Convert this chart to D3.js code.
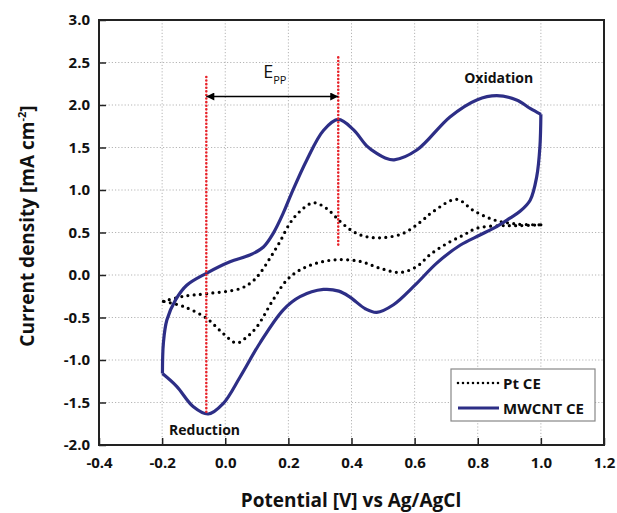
<!DOCTYPE html>
<html>
<head>
<meta charset="utf-8">
<script src="https://cdn.jsdelivr.net/npm/d3@7"></script>
<style>
  body { margin: 0; background: #fff; }
  text { font-family: "Open Sans", "DejaVu Sans", sans-serif; }
</style>
</head>
<body>
<svg id="chart" width="617" height="513"></svg>
<script>
// CV curves, Pt CE vs MWCNT CE

var xTicks = [-0.4, -0.2, 0.0, 0.2, 0.4, 0.6, 0.8, 1.0, 1.2];
var yTicks = [-2.0, -1.5, -1.0, -0.5, 0.0, 0.5, 1.0, 1.5, 2.0, 2.5, 3.0];

// MWCNT CE, anodic sweep (-0.2 V -> 1.0 V)
var mwcntAnodic = [
  [-0.199, -1.16], [-0.196, -0.80], [-0.185, -0.53], [-0.157, -0.29],
  [-0.122, -0.12], [-0.06, 0.02], [0.015, 0.156], [0.078, 0.235],
  [0.121, 0.33], [0.152, 0.49], [0.184, 0.73], [0.21, 0.96],
  [0.258, 1.35], [0.311, 1.70], [0.358, 1.83], [0.406, 1.71],
  [0.448, 1.52], [0.48, 1.43], [0.505, 1.38], [0.535, 1.355],
  [0.607, 1.47], [0.712, 1.86], [0.797, 2.06], [0.86, 2.11],
  [0.923, 2.06], [0.966, 1.96], [1.0, 1.89]
];
// MWCNT CE, cathodic sweep (1.0 V -> -0.2 V)
var mwcntCathodic = [
  [1.0, 1.89], [0.997, 1.51], [0.987, 1.16], [0.966, 0.88],
  [0.934, 0.75], [0.902, 0.67], [0.86, 0.57], [0.807, 0.47],
  [0.744, 0.35], [0.67, 0.14], [0.601, -0.12], [0.533, -0.35],
  [0.48, -0.44], [0.445, -0.40], [0.395, -0.26], [0.36, -0.19],
  [0.311, -0.17], [0.237, -0.255], [0.184, -0.41], [0.11, -0.80],
  [0.047, -1.20], [-0.006, -1.51], [-0.054, -1.635], [-0.101, -1.55],
  [-0.154, -1.31], [-0.199, -1.16]
];
// Pt CE, anodic sweep
var ptAnodic = [
  [-0.196, -0.31], [-0.133, -0.25], [-0.059, -0.22], [0.047, -0.16],
  [0.085, -0.08], [0.11, 0.02], [0.142, 0.20], [0.173, 0.39],
  [0.205, 0.61], [0.237, 0.75], [0.279, 0.85], [0.322, 0.78],
  [0.364, 0.63], [0.406, 0.51], [0.448, 0.45], [0.501, 0.44],
  [0.564, 0.49], [0.617, 0.62], [0.66, 0.75], [0.733, 0.89],
  [0.786, 0.76], [0.85, 0.65], [0.923, 0.60], [1.0, 0.59]
];
// Pt CE, cathodic sweep
var ptCathodic = [
  [1.0, 0.59], [0.923, 0.58], [0.87, 0.58], [0.797, 0.55],
  [0.755, 0.47], [0.702, 0.37], [0.649, 0.24], [0.607, 0.10],
  [0.554, 0.03], [0.49, 0.08], [0.427, 0.16], [0.353, 0.18],
  [0.29, 0.14], [0.237, 0.06], [0.195, -0.06], [0.152, -0.29],
  [0.1, -0.61], [0.068, -0.73], [0.036, -0.80], [-0.006, -0.69],
  [-0.059, -0.51], [-0.133, -0.37], [-0.196, -0.31]
];

// peak-to-peak separation markers
var eppPotentials = [-0.06, 0.358];
var eppTop = [2.33, 2.56];
var eppBottom = [-1.64, 0.32];
var eppArrowY = 2.1;

var seriesNames = ["Pt CE", "MWCNT CE"];

///////////////////////////////////////////////////////////////////////////////
// Layout

var svg = d3.select("#chart");
var plotLeft = 99, plotRight = 604, plotTop = 20, plotBottom = 445;
var navy = "#2d2e86";

var x = d3.scaleLinear().domain([-0.4, 1.2]).range([plotLeft, plotRight]);
var y = d3.scaleLinear().domain([-2.0, 3.0]).range([plotBottom, plotTop]);

// plain hyphen minus, like the original
var fmt = function (d) { return d3.format(".1f")(d).replace("\u2212", "-"); };

// grid
svg.append("g").selectAll("line").data(xTicks.slice(1, -1)).enter().append("line")
  .attr("x1", function (d) { return x(d); }).attr("x2", function (d) { return x(d); })
  .attr("y1", plotTop).attr("y2", plotBottom)
  .attr("stroke", "#b5b5b5").attr("stroke-width", 1).attr("stroke-dasharray", "1.2,2");
svg.append("g").selectAll("line").data(yTicks.slice(1, -1)).enter().append("line")
  .attr("y1", function (d) { return y(d); }).attr("y2", function (d) { return y(d); })
  .attr("x1", plotLeft).attr("x2", plotRight)
  .attr("stroke", "#b5b5b5").attr("stroke-width", 1).attr("stroke-dasharray", "1.2,2");

// axes (ticks point inward)
var xAxis = svg.append("g").attr("transform", "translate(0," + plotBottom + ")")
  .call(d3.axisBottom(x).tickValues(xTicks).tickFormat(fmt)
    .tickSizeInner(-7).tickSizeOuter(0).tickPadding(12));
var yAxis = svg.append("g").attr("transform", "translate(" + plotLeft + ",0)")
  .call(d3.axisLeft(y).tickValues(yTicks).tickFormat(fmt)
    .tickSizeInner(-7).tickSizeOuter(0).tickPadding(9));

[xAxis, yAxis].forEach(function (g) {
  g.select(".domain").remove();
  g.selectAll(".tick line").attr("stroke", "#222").attr("stroke-width", 1.5);
  g.selectAll(".tick text").attr("fill", "#111")
    .style("font-size", "15px").style("font-weight", "bold")
    .style("font-family", "'Open Sans', sans-serif");
});

// frame
svg.append("rect").attr("x", plotLeft).attr("y", plotTop)
  .attr("width", plotRight - plotLeft).attr("height", plotBottom - plotTop)
  .attr("fill", "none").attr("stroke", "#222").attr("stroke-width", 2);

///////////////////////////////////////////////////////////////////////////////
// Curves

var line = d3.line()
  .x(function (d) { return x(d[0]); })
  .y(function (d) { return y(d[1]); })
  .curve(d3.curveCatmullRom.alpha(0.5));

[ptAnodic, ptCathodic].forEach(function (branch) {
  svg.append("path").datum(branch).attr("d", line)
    .attr("fill", "none").attr("stroke", "#000").attr("stroke-width", 3.2)
    .attr("stroke-linecap", "round").attr("stroke-dasharray", "0,6.3");
});

[mwcntAnodic, mwcntCathodic].forEach(function (branch) {
  svg.append("path").datum(branch).attr("d", line)
    .attr("fill", "none").attr("stroke", navy).attr("stroke-width", 3.2)
    .attr("stroke-linejoin", "round");
});

///////////////////////////////////////////////////////////////////////////////
// Epp annotation

svg.append("g").selectAll("line").data(eppPotentials).enter().append("line")
  .attr("x1", function (d) { return x(d); }).attr("x2", function (d) { return x(d); })
  .attr("y1", function (d, i) { return y(eppTop[i]); })
  .attr("y2", function (d, i) { return y(eppBottom[i]); })
  .attr("stroke", "#e8232a").attr("stroke-width", 2.6)
  .attr("stroke-linecap", "round").attr("stroke-dasharray", "0,3.6");

var defs = svg.append("defs");
defs.append("marker").attr("id", "head")
  .attr("viewBox", "0 0 10 10").attr("refX", 10).attr("refY", 5)
  .attr("markerWidth", 10).attr("markerHeight", 8)
  .attr("markerUnits", "userSpaceOnUse")
  .attr("orient", "auto-start-reverse")
  .append("path").attr("d", "M0,0L10,5L0,10z").attr("fill", "#000");

svg.append("line")
  .attr("x1", x(eppPotentials[0])).attr("x2", x(eppPotentials[1]))
  .attr("y1", y(eppArrowY)).attr("y2", y(eppArrowY))
  .attr("stroke", "#000").attr("stroke-width", 1.5)
  .attr("marker-start", "url(#head)").attr("marker-end", "url(#head)");

var epp = svg.append("text").attr("x", x(0.12)).attr("y", y(2.32))
  .style("font-size", "18px").attr("fill", "#111");
epp.append("tspan").text("E");
epp.append("tspan").attr("dy", 6).style("font-size", "11px").text("PP");

svg.append("text").attr("x", x(0.757)).attr("y", y(2.26))
  .style("font-size", "14px").style("font-weight", "bold").attr("fill", "#111")
  .text("Oxidation");
svg.append("text").attr("x", x(-0.178)).attr("y", y(-1.88))
  .style("font-size", "14px").style("font-weight", "bold").attr("fill", "#111")
  .text("Reduction");

///////////////////////////////////////////////////////////////////////////////
// Axis titles

svg.append("text").attr("x", 351).attr("y", 507)
  .attr("text-anchor", "middle")
  .style("font-size", "19px").style("font-weight", "bold").attr("fill", "#111")
  .text("Potential [V] vs Ag/AgCl");

var ytitle = svg.append("text").attr("transform", "translate(34,226) rotate(-90)")
  .attr("text-anchor", "middle")
  .style("font-size", "19px").style("font-weight", "bold").attr("fill", "#111");
ytitle.append("tspan").text("Current density [mA cm");
ytitle.append("tspan").attr("dy", -8).style("font-size", "11px").text("-2");
ytitle.append("tspan").attr("dy", 8).text("]");

///////////////////////////////////////////////////////////////////////////////
// Legend

var legend = svg.append("g").attr("transform", "translate(451,369)");
legend.append("rect").attr("width", 144).attr("height", 52)
  .attr("fill", "#fff").attr("stroke", "#888").attr("stroke-width", 1.2);

var items = legend.selectAll("g.item").data(seriesNames).enter().append("g")
  .attr("class", "item")
  .attr("transform", function (d, i) { return "translate(0," + (14 + i * 25) + ")"; });

items.append("line").attr("x1", 7).attr("x2", 48).attr("y1", 0).attr("y2", 0)
  .attr("stroke", function (d, i) { return i === 0 ? "#000" : navy; })
  .attr("stroke-width", function (d, i) { return i === 0 ? 2.6 : 3.2; })
  .attr("stroke-linecap", function (d, i) { return i === 0 ? "round" : "butt"; })
  .attr("stroke-dasharray", function (d, i) { return i === 0 ? "0,5" : null; });

items.append("text").attr("x", 52).attr("y", 6)
  .style("font-size", "15px").style("font-weight", "bold").attr("fill", "#111")
  .text(function (d) { return d; });
</script>
</body>
</html>
